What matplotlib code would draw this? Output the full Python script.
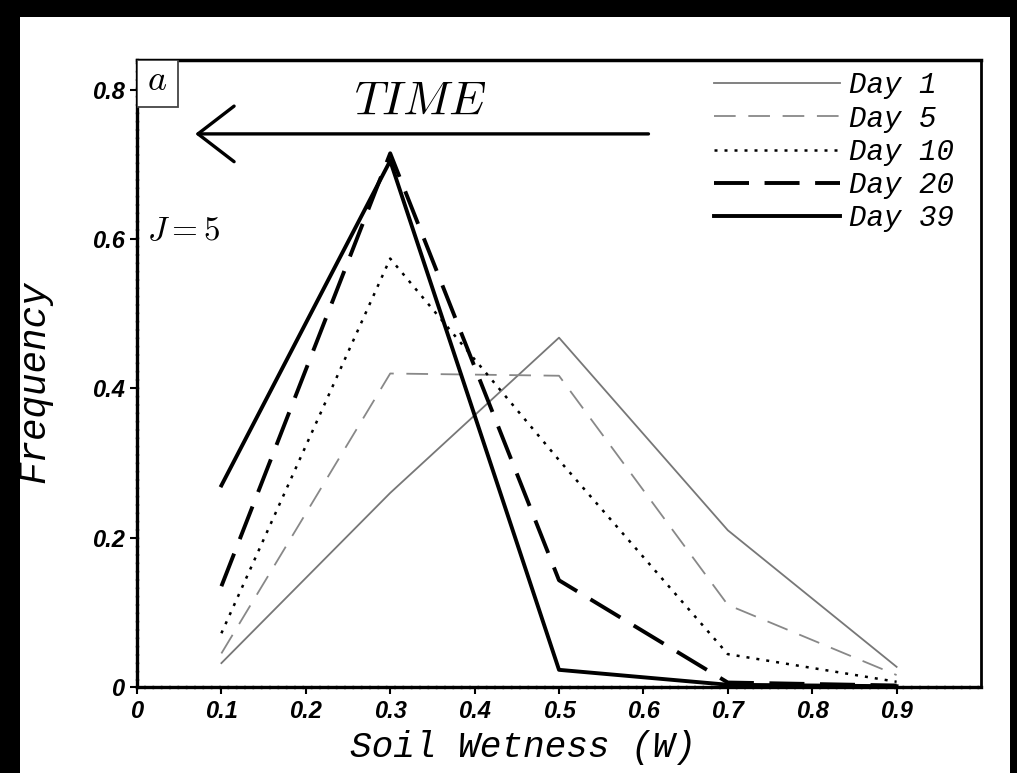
import matplotlib
matplotlib.use("Agg")
import matplotlib.pyplot as plt
from matplotlib.patches import Rectangle
from matplotlib.font_manager import FontProperties

plt.rcParams["mathtext.fontset"] = "cm"

# soil wetness bins and frequency distributions for each day
wetness = [0.1, 0.3, 0.5, 0.7, 0.9]
day1 = [0.032, 0.26, 0.468, 0.21, 0.027]
day5 = [0.045, 0.42, 0.417, 0.11, 0.016]
day10 = [0.072, 0.574, 0.304, 0.044, 0.007]
day20 = [0.135, 0.715, 0.143, 0.006, 0.002]
day39 = [0.27, 0.705, 0.023, 0.003, 0.001]
labels = ["Day 1", "Day 5", "Day 10", "Day 20", "Day 39"]

xticks = [0, 0.1, 0.2, 0.3, 0.4, 0.5, 0.6, 0.7, 0.8, 0.9]
yticks = [0, 0.2, 0.4, 0.6, 0.8]

fig = plt.figure(figsize=(10.17, 7.73), dpi=100)
fig.patch.set_facecolor("black")
fig.patches.append(Rectangle((20 / 1017, 0), 990 / 1017, 756 / 773,
                             transform=fig.transFigure, facecolor="white",
                             edgecolor="none", zorder=-1))

ax = fig.add_axes([137 / 1017, 1 - 687 / 773, 844 / 1017, 627 / 773])

ax.plot(wetness, day1, color="#777777", lw=1.3, label=labels[0])
ax.plot(wetness, day5, color="#888888", lw=1.3, dashes=(12, 7), label=labels[1])
ax.plot(wetness, day10, color="black", lw=1.8, dashes=(1.2, 2.8), label=labels[2])
ax.plot(wetness, day20, color="black", lw=2.8, dashes=(9, 4), label=labels[3])
ax.plot(wetness, day39, color="black", lw=2.8, label=labels[4])

ax.set_xlim(0, 1.0)
ax.set_ylim(0, 0.84)
ax.set_xticks(xticks)
ax.set_yticks(yticks)
ax.set_xticklabels([f"{t:g}" for t in xticks])
ax.set_yticklabels([f"{t:g}" for t in yticks])

tick_font = FontProperties(family="Liberation Sans", weight="bold",
                           style="italic", size=17)
for lab in ax.get_xticklabels() + ax.get_yticklabels():
    lab.set_fontproperties(tick_font)
ax.tick_params(direction="out", length=5, width=1.5, pad=4)

for side in ["left", "bottom"]:
    ax.spines[side].set_linewidth(2.4)
    ax.spines[side].set_linestyle((0, (2, 0.5)))
ax.spines["top"].set_linewidth(2.5)
ax.spines["right"].set_linewidth(2.0)

ax.set_xlabel("Soil Wetness (W)",
              fontproperties=FontProperties(family="Liberation Mono",
                                            style="italic", size=26))
ax.set_ylabel("Frequency",
              fontproperties=FontProperties(family="Liberation Mono",
                                            style="italic", size=27))
ax.xaxis.set_label_coords(0.457, -0.068)
ax.yaxis.set_label_coords(-0.1, 0.487)

# time arrow pointing from early to late days
ax.annotate("", xy=(0.069, 0.741), xytext=(0.606, 0.741),
            arrowprops=dict(arrowstyle="->, head_length=1.3, head_width=1.0",
                            mutation_scale=20, lw=2.4, color="black",
                            shrinkA=0, shrinkB=0))
ax.text(0.335, 0.785, r"$TIME$", fontsize=34, ha="center", va="center")
ax.text(0.012, 0.612, r"$J=5$", fontsize=24, ha="left", va="center")

# panel letter box in the top-left corner
box_w, box_h = 41 / 844, 47 / 627
ax.add_patch(Rectangle((0, 1 - box_h), box_w, box_h, transform=ax.transAxes,
                       facecolor="white", edgecolor="#444444", lw=1.3,
                       zorder=3))
ax.text(box_w / 2, 1 - box_h / 2 + 0.005, r"$a$", fontsize=26, ha="center",
        va="center", transform=ax.transAxes, zorder=4)

leg_font = FontProperties(family="Liberation Mono", style="italic", size=21)
ax.legend(loc="upper right", bbox_to_anchor=(0.99, 1.012), frameon=False,
          prop=leg_font, handlelength=4.3, handletextpad=0.3,
          labelspacing=0.18, borderpad=0.15)

fig.savefig("out.png", dpi=100, facecolor=fig.get_facecolor())
